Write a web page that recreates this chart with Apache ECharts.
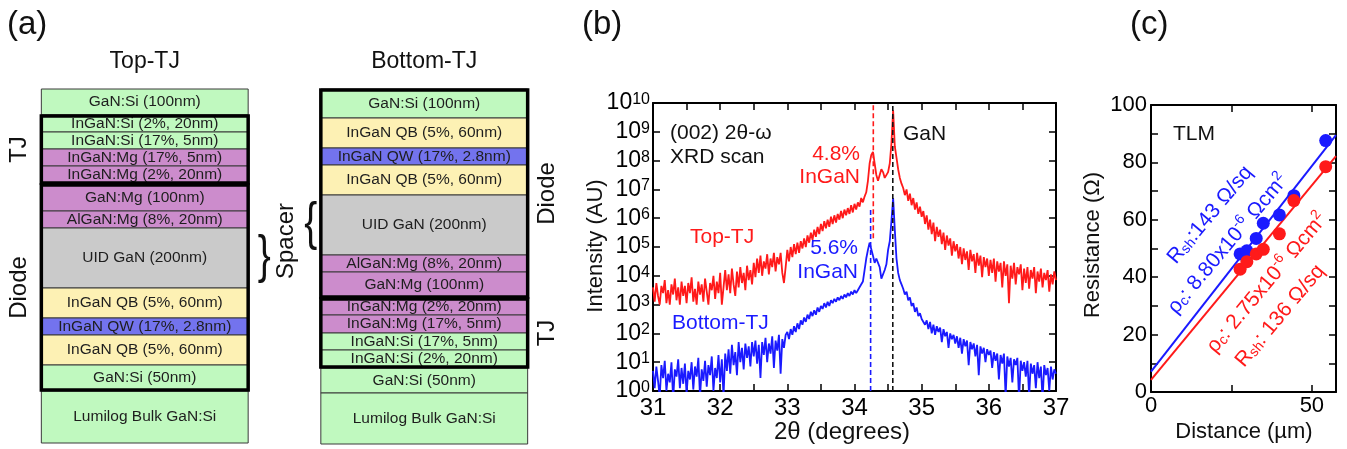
<!DOCTYPE html>
<html>
<head>
<meta charset="utf-8">
<title>Top-TJ / Bottom-TJ: structure, XRD and TLM</title>
<script src="https://cdn.jsdelivr.net/npm/echarts@6/dist/echarts.min.js"></script>
<style>
  html, body { margin: 0; padding: 0; background: #fff; }
  #chart { width: 1347px; height: 449px; }
</style>
</head>
<body>
<div id="chart"></div>
<script>
const FONT = 'Liberation Sans, Arial, Helvetica, sans-serif'

// ---------- (a) layer stacks, listed top to bottom ----------
// heights are drawing units of the schematic, not nm
const stackNames = ['Top-TJ', 'Bottom-TJ']
const topTJLayers = ['GaN:Si (100nm)', 'InGaN:Si (2%, 20nm)', 'InGaN:Si (17%, 5nm)', 'InGaN:Mg (17%, 5nm)',
  'InGaN:Mg (2%, 20nm)', 'GaN:Mg (100nm)', 'AlGaN:Mg (8%, 20nm)', 'UID GaN (200nm)', 'InGaN QB (5%, 60nm)',
  'InGaN QW (17%, 2.8nm)', 'InGaN QB (5%, 60nm)', 'GaN:Si (50nm)', 'Lumilog Bulk GaN:Si']
const topTJKinds = ['n', 'n', 'n', 'p', 'p', 'p', 'p', 'uid', 'qb', 'qw', 'qb', 'n', 'n']
const topTJHeights = [26, 17, 17, 17, 18, 27, 17, 60, 30, 17, 30, 26, 52]
const bottomTJLayers = ['GaN:Si (100nm)', 'InGaN QB (5%, 60nm)', 'InGaN QW (17%, 2.8nm)', 'InGaN QB (5%, 60nm)',
  'UID GaN (200nm)', 'AlGaN:Mg (8%, 20nm)', 'GaN:Mg (100nm)', 'InGaN:Mg (2%, 20nm)', 'InGaN:Mg (17%, 5nm)',
  'InGaN:Si (17%, 5nm)', 'InGaN:Si (2%, 20nm)', 'GaN:Si (50nm)', 'Lumilog Bulk GaN:Si']
const bottomTJKinds = ['n', 'qb', 'qw', 'qb', 'uid', 'p', 'p', 'p', 'p', 'n', 'n', 'n', 'n']
const bottomTJHeights = [29, 30, 17, 30, 60, 17, 26, 17, 18, 17, 18, 25, 51]
// outlined blocks: [label, first layer, last layer]
const topTJBlocks = [['TJ', 1, 4], ['Diode', 5, 11]]
const bottomTJBlocks = [['Diode', 0, 6], ['TJ', 7, 10]]
const spacerLayer = [7, 4] // UID GaN in each stack

// ---------- (b) XRD 2θ-ω scans, log10 of intensity ----------
const thetaStart = 31
const thetaStep = 0.025
const topTJLogI = [
  3.6, 3.1, 3.75, 3.3, 3.0, 3.65, 3.4, 3.85, 3.05, 3.5,
  3.0, 3.7, 3.35, 3.9, 3.15, 3.6, 3.0, 3.8, 3.3, 3.65,
  3.05, 3.75, 3.4, 3.95, 3.1, 3.55, 3.0, 3.8, 3.35, 3.7,
  3.1, 3.9, 3.45, 3.0, 3.75, 3.5, 4.0, 3.2, 3.8, 3.4,
  4.1, 3.0, 3.6, 4.2, 3.5, 4.05, 3.4, 4.25, 3.7, 3.3,
  4.15, 3.6, 4.3, 3.75, 4.1, 3.5, 4.35, 3.85, 4.2, 3.7,
  4.45, 3.95, 4.6, 4.1, 4.7, 4.0, 4.5, 4.25, 4.75, 4.05,
  4.6, 4.3, 4.8, 4.15, 4.65, 4.4, 4.8, 4.1, 3.75, 4.3,
  4.9, 4.5, 5.0, 4.65, 5.1, 4.75, 5.15, 4.8, 5.2, 4.95,
  5.3, 5.0, 5.4, 5.15, 5.5, 5.25, 5.6, 5.35, 5.7, 5.45,
  5.8, 5.55, 5.9, 5.65, 5.95, 5.7, 6.05, 5.8, 6.1, 5.85,
  6.15, 5.95, 6.25, 6.0, 6.3, 6.1, 6.35, 6.15, 6.45, 6.2,
  6.5, 6.3, 6.55, 6.4, 6.7, 6.55, 6.75,
  6.9, 7.3, 7.9, 8.2, 8.3, 7.9, 7.5, 7.3, 7.5, 7.7, 7.6, 7.4, 7.45, 7.6, 7.9, 8.6, 9.75, 8.5, 8.1, 7.7, 7.4, 7.2,
  7.05, 6.8, 7.0, 6.6, 6.85, 6.45, 6.7, 6.3, 6.55, 6.15, 6.4, 6.05,
  6.25, 5.8, 6.1, 5.6, 5.95, 5.45, 5.85, 5.2, 5.7, 5.35, 5.6, 5.1, 5.5, 4.9, 5.4, 5.05, 5.3, 4.7, 5.2, 4.85,
  5.1, 4.6, 5.0, 4.4, 4.95, 4.55, 4.85, 4.2, 4.9, 4.5, 4.75, 4.1, 4.8, 4.35, 4.7, 3.95, 4.65, 4.3, 4.6, 4.0,
  4.55, 4.1, 4.6, 3.8, 4.5, 4.15, 4.45, 3.6, 4.5, 4.0, 4.4, 3.05, 4.35, 3.9, 4.45, 3.7, 4.3, 4.05, 4.4, 3.5,
  4.25, 3.75, 4.3, 3.55, 4.2, 3.9, 4.3, 3.4, 4.15, 3.8, 4.25, 3.6, 4.1, 3.85, 4.2, 3.45, 4.05, 3.7, 4.15, 3.85
]
const bottomTJLogI = [
  0.7, 0.1, 0.85, 0.35, -0.2, 0.9, 0.45, 1.05, 0.0, 0.6,
  0.3, 1.0, -0.3, 0.75, 0.5, 1.1, 0.1, 0.8, 0.25, 0.95,
  -0.1, 0.7, 0.4, 1.0, 0.05, 0.85, 0.5, 1.15, -0.2, 0.75,
  0.35, 1.05, 0.15, 0.9, 0.55, 1.2, 0.0, 0.8, 0.45, 1.25,
  0.3, 1.1, -0.2, 1.3, 0.7, 1.45, 0.6, 1.6, 0.9, 1.35,
  0.55, 1.7, 1.0, 1.5, 0.75, 1.65, 1.15, 1.55, 0.85, 1.7,
  1.2, 1.75, 0.95, 1.6, 0.45, 1.7, 1.25, 1.85, 1.0, 1.65,
  1.3, 1.9, 0.8, 1.75, 1.4, 1.95, 0.6, 1.8, 1.5, 1.95,
  2.05, 1.8, 2.15, 1.95, 2.25, 2.05, 2.35, 2.15, 2.45, 2.3,
  2.55, 2.4, 2.65, 2.5, 2.75, 2.6, 2.8, 2.65, 2.9, 2.75,
  2.95, 2.85, 3.05, 2.9, 3.1, 2.95, 3.15, 3.05, 3.2, 3.1,
  3.25, 3.15, 3.3, 3.2, 3.35, 3.25, 3.4, 3.3, 3.45, 3.35,
  3.5, 3.4, 3.5, 3.6, 3.55, 3.8,
  4.2, 4.6, 4.9, 5.15, 5.1, 4.7, 4.45, 4.6, 4.65, 4.3, 3.9, 3.85, 4.2, 4.4, 4.9, 5.2, 5.9, 6.7, 5.6, 4.6, 4.1, 3.85, 3.7,
  3.55, 3.35, 3.45, 3.15, 3.25, 2.95, 3.05, 2.75, 2.9, 2.6, 2.7, 2.5,
  2.55, 2.3, 2.45, 2.15, 2.4, 2.0, 2.3, 1.95, 2.25, 2.05, 2.2, 1.7, 2.15, 1.9, 2.05, 1.5, 2.0, 1.8, 1.95, 1.65,
  1.9, 1.5, 1.85, 1.3, 1.8, 1.55, 1.75, 0.9, 1.7, 1.45, 1.65, 1.2, 1.6, 0.55, 1.55, 1.3, 1.5, 1.0, 1.45, 1.25,
  1.4, 0.8, 1.35, 1.05, 1.3, 0.4, 1.25, 0.95, 1.3, -0.2, 1.2, 0.85, 1.15, 0.3, 1.1, 0.9, 1.15, -0.3, 1.05, 0.7,
  1.0, 0.5, 1.05, -0.2, 0.95, 0.6, 0.9, 0.1, 1.0, 0.45, 0.85, -0.3, 0.9, 0.55, 0.8, 0.0, 0.85, 0.4, 0.75, 0.6
]
// dashed peak markers: 4.8% InGaN, 5.6% InGaN, GaN
const markerTheta = [34.28, 34.24, 34.57]
const markerFrom = [5.3, 0, 0]
const markerTo = [10, 6.3, 10]

// ---------- (c) TLM ----------
const tlmDistance = [27.7, 29.8, 32.7, 34.9, 39.9, 44.4, 54.3]
const bottomTJResistance = [48.1, 49.2, 53.5, 58.8, 61.7, 68.4, 87.6]
const topTJResistance = [42.8, 45.4, 48.1, 49.7, 55.1, 66.7, 78.5]
const bottomTJFit = [[0, 7.1], [57.5, 89.5]]
const topTJFit = [[0, 4.2], [57.5, 82.2]]

// 配色
const RED = '#ff1a1a'
const BLUE = '#1a1aff'
const layerColors = { n: '#c0f9bf', p: '#cc8ccc', uid: '#cacaca', qb: '#fdf1b4', qw: '#7373ee' }
const markerColors = [RED, BLUE, '#111']

// build layer rectangles from the lists
const stacks = [
  { names: topTJLayers, kinds: topTJKinds, heights: topTJHeights, blocks: topTJBlocks },
  { names: bottomTJLayers, kinds: bottomTJKinds, heights: bottomTJHeights, blocks: bottomTJBlocks }
]
const layerItems = []
const blockItems = []
const spacerItems = []
stacks.forEach((s, si) => {
  const edges = [0]
  s.heights.forEach(h => edges.push(edges[edges.length - 1] + h))
  s.names.forEach((name, li) => {
    layerItems.push({ stack: si, y0: edges[li], y1: edges[li + 1], name, kind: s.kinds[li] })
  })
  s.blocks.forEach(b => {
    blockItems.push({ stack: si, y0: edges[b[1]], y1: edges[b[2] + 1], label: b[0] })
  })
  spacerItems.push({ stack: si, y0: edges[spacerLayer[si]], y1: edges[spacerLayer[si] + 1] })
})
const stackTotal = Math.max(...stacks.map(s => s.heights.reduce((a, b) => a + b, 0)))

const xrdPoints = arr => arr.map((v, i) => [thetaStart + i * thetaStep, v])

const tickStyle = { inside: true, length: 7, lineStyle: { color: '#000', width: 1.5 } }
const frameLine = { show: true, onZero: false, lineStyle: { color: '#000', width: 2 } }

// rotated TLM notes share one rich-text style set
const tlmRich = color => ({
  m: { fontSize: 21, lineHeight: 24, fill: color, fontFamily: FONT, verticalAlign: 'bottom' },
  d: { fontSize: 14, lineHeight: 14, fill: color, fontFamily: FONT, verticalAlign: 'bottom', padding: [6, 0, 0, 0] },
  u: { fontSize: 14, lineHeight: 14, fill: color, fontFamily: FONT, verticalAlign: 'top' }
})
const note = (x, y, text, color, extra) => ({
  type: 'text', x, y, z: 100,
  style: Object.assign({ text, fontSize: 21, fill: color, fontFamily: FONT, verticalAlign: 'middle' }, extra || {})
})

const chart = echarts.init(document.getElementById('chart'))

const option = {
  animation: false,
  backgroundColor: '#fff',
  textStyle: { fontFamily: FONT },
  grid: [
    { left: 5, right: 783, top: 89, bottom: 5 },
    { left: 653, right: 291, top: 103, bottom: 58 },
    { left: 1151, right: 11, top: 105, bottom: 57 }
  ],
  xAxis: [
    {
      gridIndex: 0, type: 'category', data: stackNames, position: 'top',
      axisLine: { show: false }, axisTick: { show: false },
      axisLabel: { fontSize: 23, color: '#111', margin: 16, fontFamily: FONT }
    },
    {
      gridIndex: 1, type: 'value', min: 31, max: 37, interval: 0.5,
      axisLine: frameLine, axisTick: tickStyle, splitLine: { show: false },
      axisLabel: {
        fontSize: 24, color: '#000', margin: 5, fontFamily: FONT,
        formatter: v => (Number.isInteger(v) ? String(v) : '')
      }
    },
    {
      gridIndex: 1, type: 'value', position: 'top', min: 31, max: 37, interval: 0.5,
      axisLine: frameLine, axisTick: tickStyle, axisLabel: { show: false }, splitLine: { show: false }
    },
    {
      gridIndex: 2, type: 'value', min: 0, max: 57.5, interval: 25,
      axisLine: frameLine, axisTick: tickStyle, splitLine: { show: false },
      axisLabel: {
        fontSize: 22, color: '#000', margin: 3, fontFamily: FONT, showMaxLabel: false,
        formatter: v => (v % 50 === 0 ? String(v) : '')
      }
    },
    {
      gridIndex: 2, type: 'value', position: 'top', min: 0, max: 57.5, interval: 25,
      axisLine: frameLine, axisTick: tickStyle, axisLabel: { show: false }, splitLine: { show: false }
    }
  ],
  yAxis: [
    { gridIndex: 0, type: 'value', inverse: true, min: 0, max: stackTotal, show: false },
    {
      gridIndex: 1, type: 'value', min: 0, max: 10, interval: 1,
      axisLine: frameLine, axisTick: tickStyle, splitLine: { show: false },
      axisLabel: {
        margin: 3, fontFamily: FONT,
        formatter: v => '{b|10}{s|' + v + '}',
        rich: {
          b: { fontSize: 23, lineHeight: 23, color: '#000', fontFamily: FONT, verticalAlign: 'bottom' },
          s: { fontSize: 16, lineHeight: 16, color: '#000', fontFamily: FONT, verticalAlign: 'top', padding: [0, 0, 11, 0] }
        }
      }
    },
    {
      gridIndex: 1, type: 'value', position: 'right', min: 0, max: 10, interval: 1,
      axisLine: frameLine, axisTick: tickStyle, axisLabel: { show: false }, splitLine: { show: false }
    },
    {
      gridIndex: 2, type: 'value', min: 0, max: 100, interval: 10,
      axisLine: frameLine, axisTick: tickStyle, splitLine: { show: false },
      axisLabel: {
        fontSize: 22, color: '#000', margin: 4, fontFamily: FONT,
        formatter: v => (v % 20 === 0 ? String(v) : '')
      }
    },
    {
      gridIndex: 2, type: 'value', position: 'right', min: 0, max: 100, interval: 10,
      axisLine: frameLine, axisTick: tickStyle, axisLabel: { show: false }, splitLine: { show: false }
    }
  ],
  series: [
    // (a) layers
    {
      type: 'custom', name: 'layers', xAxisIndex: 0, yAxisIndex: 0,
      data: layerItems.map(d => [d.stack, d.y0, d.y1]),
      encode: { x: 0, y: [1, 2] },
      renderItem: (params, api) => {
        const it = layerItems[params.dataIndex]
        const p0 = api.coord([it.stack, it.y0])
        const p1 = api.coord([it.stack, it.y1])
        const w = api.size([1, 0])[0] * 0.74
        return {
          type: 'rect',
          shape: { x: p0[0] - w / 2, y: p0[1], width: w, height: p1[1] - p0[1] },
          style: { fill: layerColors[it.kind], stroke: '#3a3a3a', lineWidth: 1 },
          textContent: {
            style: { text: it.name, fontSize: 15.5, fill: '#1e1e1e', fontFamily: FONT }
          },
          textConfig: { position: 'inside' }
        }
      }
    },
    // (a) TJ / Diode outlines
    {
      type: 'custom', name: 'blocks', xAxisIndex: 0, yAxisIndex: 0, z: 3,
      data: blockItems.map(d => [d.stack, d.y0, d.y1]),
      encode: { x: 0, y: [1, 2] },
      renderItem: (params, api) => {
        const it = blockItems[params.dataIndex]
        const p0 = api.coord([it.stack, it.y0])
        const p1 = api.coord([it.stack, it.y1])
        const w = api.size([1, 0])[0] * 0.74
        const tx = it.stack === 0 ? p0[0] - w / 2 - 22 : p0[0] + w / 2 + 20
        return {
          type: 'group',
          children: [
            {
              type: 'rect',
              shape: { x: p0[0] - w / 2, y: p0[1] + 1, width: w, height: p1[1] - p0[1] - 2 },
              style: { fill: 'none', stroke: '#000', lineWidth: 3.5 }
            },
            {
              type: 'text', x: tx, y: (p0[1] + p1[1]) / 2, rotation: Math.PI / 2,
              style: { text: it.label, fontSize: 24, fill: '#111', fontFamily: FONT, align: 'center', verticalAlign: 'middle' }
            }
          ]
        }
      }
    },
    // (a) spacer braces
    {
      type: 'custom', name: 'spacer', xAxisIndex: 0, yAxisIndex: 0,
      data: spacerItems.map(d => [d.stack, d.y0, d.y1]),
      encode: { x: 0, y: [1, 2] },
      renderItem: (params, api) => {
        const it = spacerItems[params.dataIndex]
        const p0 = api.coord([it.stack, it.y0])
        const p1 = api.coord([it.stack, it.y1])
        const w = api.size([1, 0])[0] * 0.74
        const right = it.stack === 0
        return {
          type: 'text',
          x: right ? p0[0] + w / 2 + 16 : p0[0] - w / 2 - 10,
          y: (p0[1] + p1[1]) / 2,
          scaleX: 0.75,
          style: { text: right ? '}' : '{', fontSize: 52, fill: '#111', fontFamily: FONT, align: 'center', verticalAlign: 'middle' }
        }
      }
    },
    // (b) XRD curves
    {
      type: 'line', name: 'Top-TJ', xAxisIndex: 1, yAxisIndex: 1,
      data: xrdPoints(topTJLogI), showSymbol: false, clip: true,
      lineStyle: { color: RED, width: 1.8 }, itemStyle: { color: RED }
    },
    {
      type: 'line', name: 'Bottom-TJ', xAxisIndex: 1, yAxisIndex: 1,
      data: xrdPoints(bottomTJLogI), showSymbol: false, clip: true,
      lineStyle: { color: BLUE, width: 1.8 }, itemStyle: { color: BLUE }
    },
    ...markerTheta.map((t, i) => ({
      type: 'line', name: 'marker' + i, xAxisIndex: 1, yAxisIndex: 1, z: 4,
      data: [[t, markerFrom[i]], [t, markerTo[i]]], showSymbol: false,
      lineStyle: { color: markerColors[i], width: 1.6, type: [5, 3] }
    })),
    // (c) TLM fits and points
    {
      type: 'line', name: 'fit Bottom-TJ', xAxisIndex: 3, yAxisIndex: 3,
      data: bottomTJFit, showSymbol: false, lineStyle: { color: BLUE, width: 2 }
    },
    {
      type: 'line', name: 'fit Top-TJ', xAxisIndex: 3, yAxisIndex: 3,
      data: topTJFit, showSymbol: false, lineStyle: { color: RED, width: 2 }
    },
    {
      type: 'scatter', name: 'TLM Bottom-TJ', xAxisIndex: 3, yAxisIndex: 3, z: 5,
      data: tlmDistance.map((d, i) => [d, bottomTJResistance[i]]),
      symbolSize: 13, itemStyle: { color: BLUE, opacity: 1 }
    },
    {
      type: 'scatter', name: 'TLM Top-TJ', xAxisIndex: 3, yAxisIndex: 3, z: 5,
      data: tlmDistance.map((d, i) => [d, topTJResistance[i]]),
      symbolSize: 13, itemStyle: { color: RED, opacity: 1 }
    }
  ],
  graphic: [
    // panel letters
    note(7, 25, '(a)', '#111', { fontSize: 33 }),
    note(582, 25, '(b)', '#111', { fontSize: 33 }),
    note(1130, 25, '(c)', '#111', { fontSize: 33 }),
    // (a)
    { type: 'text', x: 286, y: 241, rotation: Math.PI / 2,
      style: { text: 'Spacer', fontSize: 24, fill: '#111', fontFamily: FONT, align: 'center', verticalAlign: 'middle' } },
    // (b) notes
    note(670, 133, '(002) 2θ-ω', '#111'),
    note(670, 157, 'XRD scan', '#111'),
    note(903, 134, 'GaN', '#111'),
    note(860, 154, '4.8%', RED, { align: 'right' }),
    note(860, 177, 'InGaN', RED, { align: 'right' }),
    note(858, 248, '5.6%', BLUE, { align: 'right' }),
    note(858, 272, 'InGaN', BLUE, { align: 'right' }),
    note(690, 237, 'Top-TJ', RED),
    note(672, 323, 'Bottom-TJ', BLUE),
    note(842, 432, '2θ (degrees)', '#111', { fontSize: 24, align: 'center' }),
    { type: 'text', x: 596, y: 246, rotation: Math.PI / 2,
      style: { text: 'Intensity (AU)', fontSize: 22, fill: '#111', fontFamily: FONT, align: 'center', verticalAlign: 'middle' } },
    // (c) notes
    note(1173, 134, 'TLM', '#111'),
    { type: 'text', x: 1209, y: 214, z: 100, rotation: 50 * Math.PI / 180,
      style: { text: '{m|R}{d|sh}{m|:143 Ω/sq}', align: 'center', verticalAlign: 'middle', fill: BLUE, fontFamily: FONT, rich: tlmRich(BLUE) } },
    { type: 'text', x: 1227, y: 243, z: 100, rotation: 50 * Math.PI / 180,
      style: { text: '{m|ρ}{d|c}{m|: 8.80x10}{u|-6}{m| Ωcm}{u|2}', align: 'center', verticalAlign: 'middle', fill: BLUE, fontFamily: FONT, rich: tlmRich(BLUE) } },
    { type: 'text', x: 1266, y: 282, z: 100, rotation: 50 * Math.PI / 180,
      style: { text: '{m|ρ}{d|c}{m|: 2.75x10}{u|-6}{m| Ωcm}{u|2}', align: 'center', verticalAlign: 'middle', fill: RED, fontFamily: FONT, rich: tlmRich(RED) } },
    { type: 'text', x: 1279, y: 315, z: 100, rotation: 50 * Math.PI / 180,
      style: { text: '{m|R}{d|sh}{m|: 136 Ω/sq}', align: 'center', verticalAlign: 'middle', fill: RED, fontFamily: FONT, rich: tlmRich(RED) } },
    note(1244, 432, 'Distance (µm)', '#111', { fontSize: 22, align: 'center' }),
    { type: 'text', x: 1093, y: 245, rotation: Math.PI / 2,
      style: { text: 'Resistance (Ω)', fontSize: 22, fill: '#111', fontFamily: FONT, align: 'center', verticalAlign: 'middle' } }
  ]
}

chart.setOption(option)

window.addEventListener('resize', () => {
  chart && chart.resize()
})
</script>
</body>
</html>
